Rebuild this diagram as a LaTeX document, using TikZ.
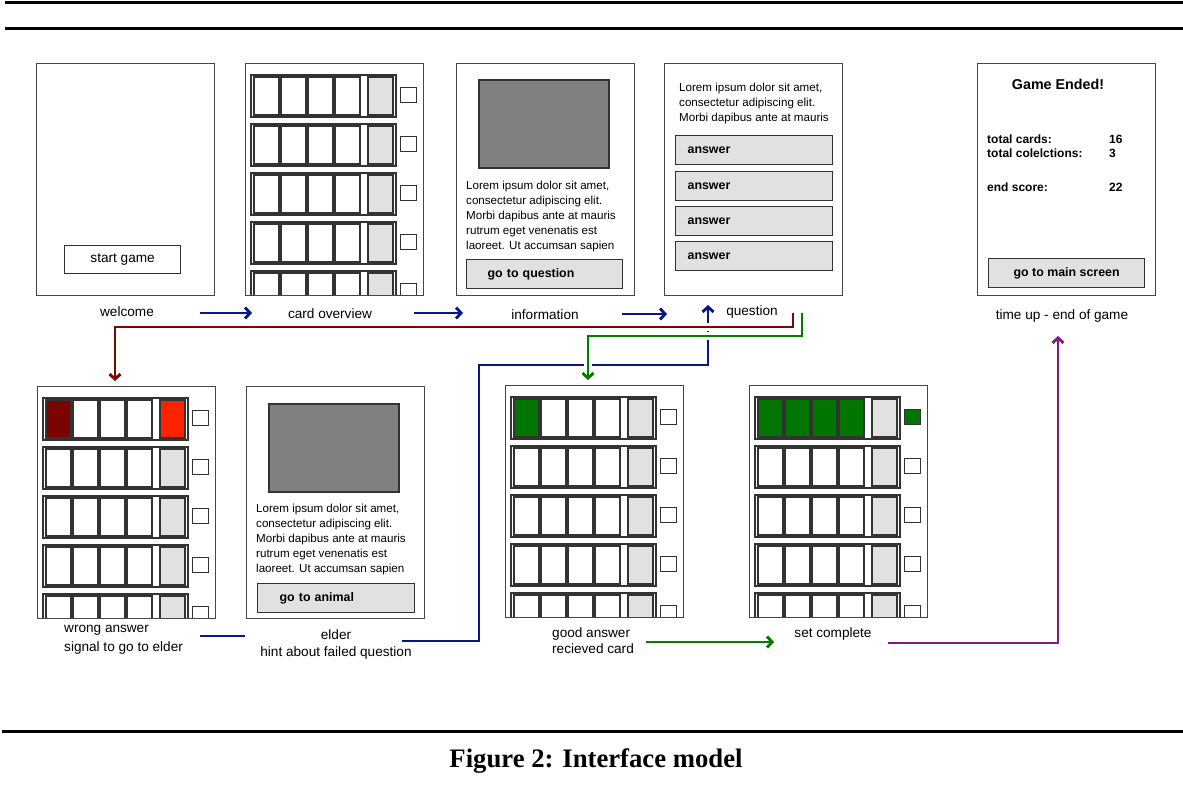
\documentclass[tikz,border=0pt]{standalone}
\usepackage{fontspec}
\setmainfont{Liberation Sans}
\newfontfamily\capfont{Liberation Serif}
\usetikzlibrary{arrows.meta}
\definecolor{framec}{RGB}{70,70,70}
\definecolor{cellgray}{RGB}{225,225,225}
\definecolor{picgray}{RGB}{128,128,128}
\definecolor{navyc}{RGB}{8,24,130}
\definecolor{redc}{RGB}{128,4,0}
\definecolor{greenc}{RGB}{0,126,0}
\definecolor{purplec}{RGB}{130,30,130}
\definecolor{wrongdark}{RGB}{122,4,0}
\definecolor{wrongred}{RGB}{255,34,0}
\definecolor{gotcard}{RGB}{0,118,0}
\newcommand\lblfont{\fontsize{13.6}{17}\selectfont}
\newcommand\loremfont{\fontsize{11.6}{15}\selectfont}
\newcommand\btnfont{\fontsize{12.4}{15}\selectfont\bfseries}
\newcommand\cardlist{%
  \begin{scope}
  \clip (0,0) rectangle (178,231.4);
  \foreach \ri in {0,...,4}{%
    \draw[rowbox] (6,12+49*\ri) rectangle ++(145,42);
    \foreach \ci in {0,...,3}
      \draw[cell] (9+27*\ci,14+49*\ri) rectangle ++(25,38);
    \draw[cell,fill=cellgray] (123,14+49*\ri) rectangle ++(25,38);
    \draw[tickbox] (155,24+49*\ri) rectangle ++(16,15);
  }
  \end{scope}}
\begin{document}
\begin{tikzpicture}[x=1pt,y=-1pt,
  screen/.style={draw=framec,line width=1.2pt,fill=white,anchor=north west,
    inner sep=0pt,minimum width=178pt,minimum height=232pt},
  rowbox/.style={draw=black!80,line width=1.3pt},
  cell/.style={draw=black!80,line width=1.3pt,fill=white},
  tickbox/.style={draw=black!80,line width=1pt,fill=white},
  picbox/.style={draw=black!80,line width=1.2pt,fill=picgray},
  button/.style={draw=black!80,line width=1.2pt,fill=cellgray,anchor=north west,
    minimum height=29pt,inner ysep=0pt,font=\btnfont},
  lbl/.style={anchor=base,inner sep=0pt,font=\lblfont},
  lorem/.style={anchor=base west,inner sep=0pt,font=\loremfont},
  stat/.style={anchor=base west,inner sep=0pt,font=\fontsize{12}{14}\selectfont\bfseries},
  flow/.style={line width=2.9pt,-{Straight Barb[length=5pt,width=11pt]}},
  halo/.style={preaction={draw=white,line width=7.5pt,-}},
  ]
\useasboundingbox (0,0) rectangle (1183,793);
\draw[line width=3pt] (5,2.3) -- (1183,2.3);
\draw[line width=3.2pt] (5,28.3) -- (1183,28.3);
\draw[line width=3.6pt] (2,731.3) -- (1183,731.3);
\node[anchor=base,inner sep=0pt,font=\capfont\bfseries\fontsize{26.7}{30}\selectfont] (caption) at (596,767) {Figure 2: Interface model};

\node[screen] (welcome) at (36,63) {};
\node[button,fill=white,font=\lblfont,minimum width=116pt,minimum height=28pt] (start) at (64,245) {start game};
\node[lbl] (lwelcome) at (127,316) {welcome};

\node[screen] (cards) at (245,63) {};
\begin{scope}[shift={(cards.north west)}]
\cardlist
\end{scope}
\node[lbl] (lcards) at (330,318.5) {card overview};

\node[screen] (info) at (456,63) {};
\draw[picbox] (479,80) rectangle (609,168);
\node[lorem] (infotext) at (466,189.5) {\begin{tabular}[t]{@{}l@{}}
Lorem ipsum dolor sit amet,\\ consectetur adipiscing elit.\\ Morbi dapibus ante at mauris\\
rutrum eget venenatis est\\ laoreet. Ut accumsan sapien\end{tabular}};
\node[button,text width=114pt,inner xsep=21pt,align=left] (toquestion) at (466,259) {go to question};
\node[lbl] (linfo) at (545,319.5) {information};

\node[screen] (question) at (664,63) {};
\node[lorem] (questiontext) at (679,91) {\begin{tabular}[t]{@{}l@{}}
Lorem ipsum dolor sit amet,\\ consectetur adipiscing elit.\\ Morbi dapibus ante at mauris\end{tabular}};
\foreach \y [count=\i] in {135,171,206,241}
  \node[button,text width=133pt,inner xsep=12pt,align=left] (ans\i) at (675,\y) {answer};
\node[lbl] (lquestion) at (752,315) {question};

\node[screen] (ended) at (977,63) {};
\node[anchor=base,inner sep=0pt,font=\fontsize{14.3}{17}\selectfont\bfseries] (endtitle) at (1058,89) {Game Ended!};
\node[stat] (tcards) at (987,143.5) {total cards:};
\node[stat] (ncards) at (1109,143.5) {16};
\node[stat] (tcoll) at (987,157) {total colelctions:};
\node[stat] (ncoll) at (1109,157) {3};
\node[stat] (tscore) at (987,191) {end score:};
\node[stat] (nscore) at (1109,191) {22};
\node[button,minimum width=156pt] (tomain) at (988,258) {go to main screen};
\node[lbl] (lended) at (1062,319.5) {time up - end of game};

\node[screen] (wrong) at (37,386) {};
\begin{scope}[shift={(wrong.north west)}]
\cardlist
\draw[cell,fill=wrongdark] (9,14) rectangle ++(25,38);
\draw[cell,fill=wrongred] (123,14) rectangle ++(25,38);
\end{scope}
\node[lbl,anchor=base west] (lwrong) at (64,632) {\begin{tabular}[t]{@{}l@{}}wrong answer\\[2.5pt] signal to go to elder\end{tabular}};

\node[screen] (elder) at (246,386) {};
\draw[picbox] (269,404) rectangle (399,492);
\node[lorem] (eldertext) at (256,512.5) {\begin{tabular}[t]{@{}l@{}}
Lorem ipsum dolor sit amet,\\ consectetur adipiscing elit.\\ Morbi dapibus ante at mauris\\
rutrum eget venenatis est\\ laoreet. Ut accumsan sapien\end{tabular}};
\node[button,text width=113pt,inner xsep=22pt,align=left] (toanimal) at (257,583) {go to animal};
\node[lbl] (lelder) at (336,639) {\begin{tabular}[t]{@{}c@{}}elder\\ hint about failed question\end{tabular}};

\node[screen] (good) at (505,385) {};
\begin{scope}[shift={(good.north west)}]
\cardlist
\draw[cell,fill=gotcard] (9,14) rectangle ++(25,38);
\end{scope}
\node[lbl,anchor=base west] (lgood) at (552,637) {\begin{tabular}[t]{@{}l@{}}good answer\\[-1pt] recieved card\end{tabular}};

\node[screen] (complete) at (749,385) {};
\begin{scope}[shift={(complete.north west)}]
\cardlist
\foreach \ci in {0,...,3}
  \draw[cell,fill=gotcard] (9+27*\ci,14) rectangle ++(25,38);
\draw[tickbox,fill=gotcard] (155,24) rectangle ++(16,15);
\end{scope}
\node[lbl] (lcomplete) at (833,637) {set complete};

\coordinate (w1) at (200,313);   \coordinate (c1) at (252,313);
\coordinate (c2) at (414,313);   \coordinate (i1) at (463,313);
\coordinate (i2) at (622,314);   \coordinate (q1) at (667,314);
\coordinate (qr) at (793,313);   \coordinate (wr) at (115,381);
\coordinate (qg) at (802,313);   \coordinate (gd) at (588,380);
\coordinate (w2) at (200,636);   \coordinate (e1) at (245,636);
\coordinate (e2) at (402,641);   \coordinate (qb) at (708,305);
\coordinate (g2) at (646,642);   \coordinate (s1) at (774,642);
\coordinate (s2) at (888,643);   \coordinate (t1) at (1058,336);

\draw[flow,navyc] (w1) -- (c1);
\draw[flow,navyc] (c2) -- (i1);
\draw[flow,navyc] (i2) -- (q1);
\draw[line width=2.9pt,navyc] (w2) -- (e1);
\draw[flow,navyc] (e2) -- (479,641) -- (479,365) -- (708,365) -- (qb);
\draw[flow,redc,halo] (qr) -- (793,327) -- (115,327) -- (wr);
\draw[flow,greenc,halo] (qg) -- (802,336) -- (588,336) -- (gd);
\draw[flow,greenc] (g2) -- (s1);
\draw[flow,purplec] (s2) -- (1058,643) -- (t1);
\end{tikzpicture}
\end{document}
